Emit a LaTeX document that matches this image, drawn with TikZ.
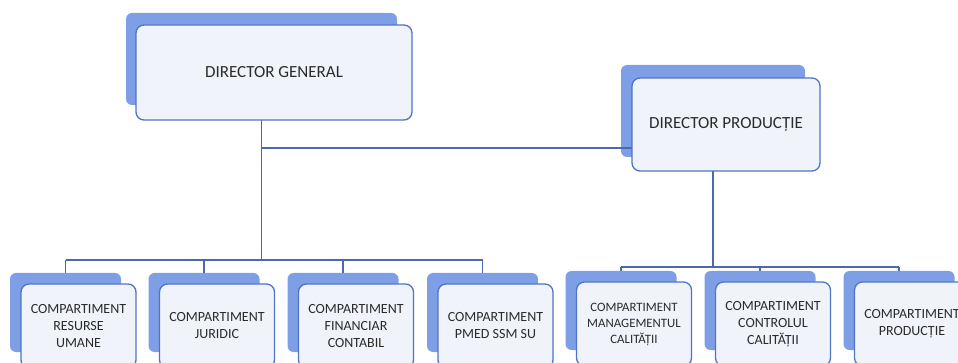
\documentclass[tikz,border=0pt]{standalone}
\usepackage{fontspec}
\setmainfont{Carlito}

\definecolor{bkblue}{HTML}{7E9EE5}
\definecolor{frfill}{HTML}{F1F3FB}
\definecolor{frline}{HTML}{4F74C4}
\definecolor{lnblue}{HTML}{4A69AE}
\definecolor{txtgray}{HTML}{2B2B2B}

\tikzset{
  backbox/.style={fill=bkblue, rounded corners=6pt, inner sep=0pt},
  frontbox/.style={fill=frfill, draw=frline, line width=1.3pt, rounded corners=8pt,
    align=center, text=txtgray, inner sep=2pt},
  kidbox/.style={frontbox, minimum width=115pt, minimum height=84pt,
    font=\fontsize{14}{17}\selectfont},
  conn/.style={draw=lnblue, line width=1.2pt},
}

\begin{document}
\begin{tikzpicture}[x=1pt,y=-1pt]
  \useasboundingbox (0,0) rectangle (958,363);
  \clip (0,0) rectangle (958,363);

  % Umbre albastre (in spate)
  \node[backbox, minimum width=271pt, minimum height=92pt] (dg) at (261.5,59) {};
  \node[backbox, minimum width=184pt, minimum height=92pt] (dp) at (713,111) {};
  \foreach \i/\x in {1/65.5,2/204,3/343,4/482.5}
    \node[backbox, minimum width=111pt, minimum height=79pt] (c\i) at (\x,312.5) {};
  \foreach \i/\x in {5/621,6/760,7/899}
    \node[backbox, minimum width=111pt, minimum height=79pt] (c\i) at (\x,310.5) {};

  % Linii de legatura
  \coordinate (lbus) at (0,260);
  \coordinate (rbus) at (0,267);
  \coordinate (j) at (261.5,148);
  \draw[conn] (dg.center) -- (dg.center |- lbus);
  \draw[conn] (j) -- (j -| dp.center);
  \draw[conn] (dp.center) -- (dp.center |- rbus);
  \draw[conn] (c1 |- lbus) -- (c4 |- lbus);
  \draw[conn] (c5 |- rbus) -- (c7 |- rbus);
  \foreach \i in {1,...,4}
    \draw[conn] (c\i |- lbus) -- (c\i.north);
  \foreach \i in {5,6,7}
    \draw[conn] (c\i |- rbus) -- (c\i.north);

  % Casete principale
  \node[frontbox, minimum width=276pt, minimum height=95pt, font=\fontsize{17}{20}\selectfont]
    (dgf) at ([shift={(12.5,13.5)}]dg.center) {DIRECTOR GENERAL};
  \node[frontbox, minimum width=188pt, minimum height=93pt, font=\fontsize{17}{20}\selectfont]
    (dpf) at ([shift={(13,13.5)}]dp.center) {DIRECTOR PRODUCȚIE};

  % Compartimente
  \foreach \i/\t in {1/{COMPARTIMENT\\RESURSE\\UMANE},2/{COMPARTIMENT\\JURIDIC},
      3/{COMPARTIMENT\\FINANCIAR\\CONTABIL},4/{COMPARTIMENT\\PMED SSM SU},
      6/{COMPARTIMENT\\CONTROLUL\\CALITĂȚII},7/{COMPARTIMENT\\PRODUCȚIE}}
    \node[kidbox] (f\i) at ([shift={(13,13.5)}]c\i.center) {\t};
  \node[kidbox, font=\fontsize{12.8}{16}\selectfont]
    (f5) at ([shift={(13,13.5)}]c5.center) {COMPARTIMENT\\MANAGEMENTUL\\CALITĂȚII};
\end{tikzpicture}
\end{document}
